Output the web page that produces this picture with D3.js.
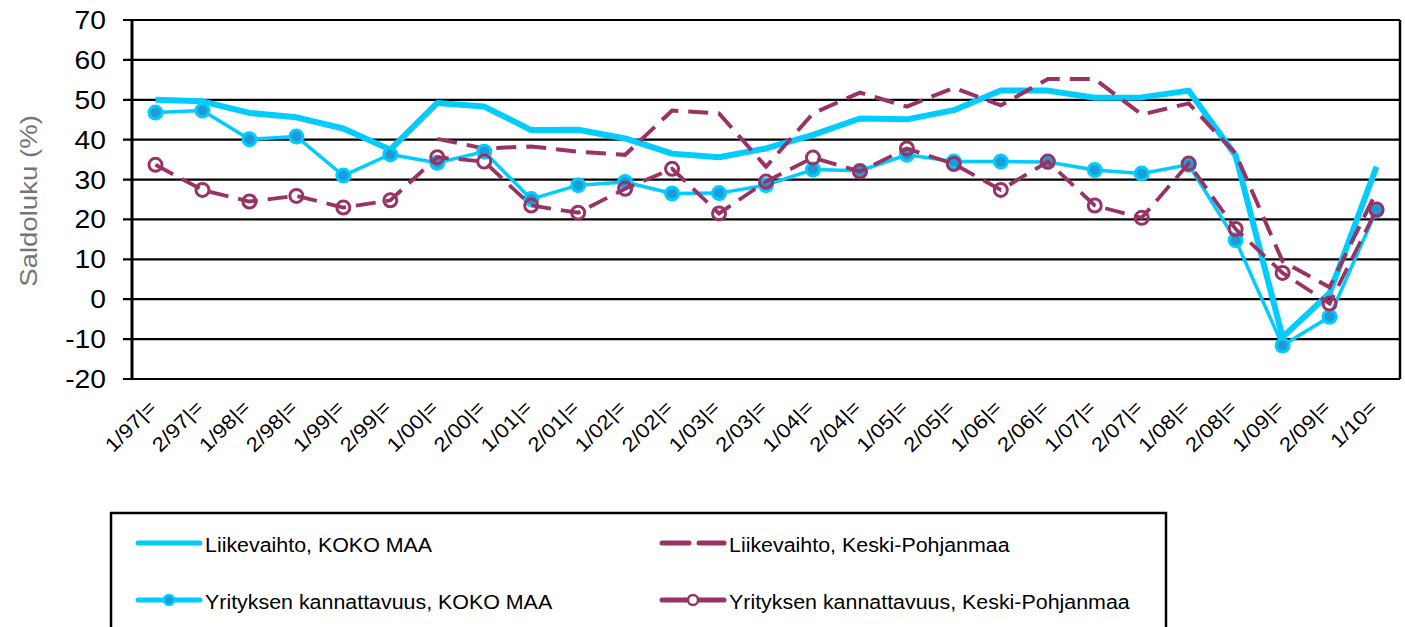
<!DOCTYPE html>
<html>
<head>
<meta charset="utf-8">
<script src="https://cdn.jsdelivr.net/npm/d3@7"></script>
<style>
  body { margin: 0; background: #fff; }
  text { font-family: "Liberation Sans", Arial, sans-serif; }
</style>
</head>
<body>
<div id="container"></div>
<script>
let w = 1405;
let h = 627;

// DATA
let categories = ["1/97|=", "2/97|=", "1/98|=", "2/98|=", "1/99|=", "2/99|=", "1/00|=", "2/00|=",
  "1/01|=", "2/01|=", "1/02|=", "2/02|=", "1/03|=", "2/03|=", "1/04|=", "2/04|=", "1/05|=",
  "2/05|=", "1/06|=", "2/06|=", "1/07|=", "2/07|=", "1/08|=", "2/08|=", "1/09|=", "2/09|=", "1/10="];

let liikevaihtoKoko = [50, 49.6, 46.7, 45.6, 42.8, 37.5, 49.2, 48.3, 42.4, 42.5, 40.3, 36.5, 35.6,
  37.8, 41.2, 45.3, 45.1, 47.4, 52.3, 52.3, 50.5, 50.6, 52.3, 36, -9.5, 1.5, 33.2];

let liikevaihtoKP = [null, null, null, null, null, null, 40.2, 37.8, 38.3, 37, 36.2, 47.3, 46.6,
  33.2, 46.6, 51.8, 48.3, 53, 48.6, 55.2, 55.2, 46.3, 49.1, 36.5, 9.5, 3, 27];

let kannattavuusKoko = [46.8, 47.3, 40.1, 40.8, 31, 36.3, 34.2, 37, 25.1, 28.6, 29.4, 26.5, 26.6,
  28.6, 32.5, 32.2, 36.2, 34.5, 34.5, 34.4, 32.4, 31.5, 33.7, 14.8, -11.6, -4.4, 22.3];

let kannattavuusKP = [33.7, 27.4, 24.5, 25.9, 23, 24.8, 35.6, 34.5, 23.5, 21.7, 27.7, 32.7, 21.5,
  29.5, 35.5, 32, 37.8, 33.9, 27.4, 34.5, 23.5, 20.4, 34, 17.6, 6.6, -1.1, 22.5];

let yTicks = [-20, -10, 0, 10, 20, 30, 40, 50, 60, 70];

let seriesNames = ["Liikevaihto, KOKO MAA", "Liikevaihto, Keski-Pohjanmaa",
  "Yrityksen kannattavuus, KOKO MAA", "Yrityksen kannattavuus, Keski-Pohjanmaa"];

let cyan = "#00ccff";
let purple = "#993366";
let markerBlue = "#1e9bd7";

let plotLeft = 132, plotRight = 1400, plotTop = 20, plotBottom = 379;

let viz = d3.select("#container").append("svg")
  .attr("width", w)
  .attr("height", h)
  .style("background-color", "white");

let yScale = d3.scaleLinear().domain([-20, 70]).range([plotBottom, plotTop]);
let xScale = d3.scaleBand().domain(categories).range([plotLeft, plotRight]);
function cx(c) { return xScale(c) + xScale.bandwidth() / 2; }

// text helper: stretches text along its own direction
function label(g, x, y, str, opts) {
  let t = g.append("text")
    .attr("transform", "translate(" + x + "," + y + ") rotate(" + (opts.rot || 0) + ") scale(" + (opts.sx || 1) + ",1)")
    .attr("font-size", opts.size)
    .attr("text-anchor", opts.anchor || "start")
    .attr("fill", opts.fill || "#000")
    .text(str);
  return t;
}

// gridlines
viz.selectAll(".grid").data(yTicks).enter()
  .append("line")
  .attr("class", "grid")
  .attr("x1", plotLeft - 9)
  .attr("x2", plotRight)
  .attr("y1", d => yScale(d))
  .attr("y2", d => yScale(d))
  .attr("stroke", "#000")
  .attr("stroke-width", 2.2);

// right border + left axis
viz.append("line").attr("x1", plotRight).attr("x2", plotRight).attr("y1", plotTop).attr("y2", plotBottom)
  .attr("stroke", "#000").attr("stroke-width", 2.5);
viz.append("line").attr("x1", plotLeft).attr("x2", plotLeft).attr("y1", plotTop - 1).attr("y2", plotBottom + 1)
  .attr("stroke", "#000").attr("stroke-width", 3);

// y labels
yTicks.forEach(function (d) {
  label(viz, 106, yScale(d) + 9, d, { size: 25, sx: 1.13, anchor: "end" });
});

// y title
label(viz, 37, 201, "Saldoluku (%)", { size: 23, sx: 1.2, rot: -90, anchor: "middle", fill: "#757575" });

// x labels
categories.forEach(function (c) {
  label(viz, cx(c) + 2, 409, c, { size: 20, sx: 1.12, rot: -45, anchor: "end" });
});

// lines
let lineMaker = d3.line()
  .defined(d => d.v != null)
  .x(d => cx(d.c))
  .y(d => yScale(d.v));

function toPts(arr) {
  return arr.map(function (v, i) { return { c: categories[i], v: v }; });
}

viz.append("path").datum(toPts(liikevaihtoKoko))
  .attr("d", lineMaker).attr("fill", "none")
  .attr("stroke", cyan).attr("stroke-width", 6).attr("stroke-linejoin", "round");

viz.append("path").datum(toPts(liikevaihtoKP))
  .attr("d", lineMaker).attr("fill", "none")
  .attr("stroke", purple).attr("stroke-width", 4).attr("stroke-dasharray", "20,10");

viz.append("path").datum(toPts(kannattavuusKoko))
  .attr("d", lineMaker).attr("fill", "none")
  .attr("stroke", cyan).attr("stroke-width", 3.5).attr("stroke-linejoin", "round");

viz.selectAll(".m3").data(toPts(kannattavuusKoko)).enter()
  .append("circle").attr("class", "m3")
  .attr("cx", d => cx(d.c)).attr("cy", d => yScale(d.v)).attr("r", 6.5)
  .attr("fill", markerBlue).attr("stroke", cyan).attr("stroke-width", 3);

viz.append("path").datum(toPts(kannattavuusKP))
  .attr("d", lineMaker).attr("fill", "none")
  .attr("stroke", purple).attr("stroke-width", 3.8).attr("stroke-dasharray", "20,10");

viz.selectAll(".m4").data(toPts(kannattavuusKP)).enter()
  .append("circle").attr("class", "m4")
  .attr("cx", d => cx(d.c)).attr("cy", d => yScale(d.v)).attr("r", 6.5)
  .attr("fill", "none").attr("stroke", purple).attr("stroke-width", 3);

// LEGEND
let legend = viz.append("g");
legend.append("rect")
  .attr("x", 111).attr("y", 513).attr("width", 1055).attr("height", 140)
  .attr("fill", "white").attr("stroke", "#000").attr("stroke-width", 2.5);

let legendPos = [
  { x: 138, y: 543 }, { x: 662, y: 543 },
  { x: 138, y: 600 }, { x: 662, y: 600 }
];
let legendStyle = [
  { color: cyan, width: 5, dash: null, marker: null },
  { color: purple, width: 5, dash: "27,10", marker: null },
  { color: cyan, width: 5, dash: null, marker: "filled" },
  { color: purple, width: 5, dash: null, marker: "open" }
];

seriesNames.forEach(function (name, i) {
  let p = legendPos[i], s = legendStyle[i];
  legend.append("line")
    .attr("x1", p.x).attr("x2", p.x + 62).attr("y1", p.y).attr("y2", p.y)
    .attr("stroke", s.color).attr("stroke-width", s.width)
    .attr("stroke-linecap", "round")
    .attr("stroke-dasharray", s.dash);
  if (s.marker == "filled") {
    legend.append("circle").attr("cx", p.x + 31).attr("cy", p.y).attr("r", 5)
      .attr("fill", markerBlue).attr("stroke", cyan).attr("stroke-width", 2.5);
  } else if (s.marker == "open") {
    legend.append("circle").attr("cx", p.x + 31).attr("cy", p.y).attr("r", 5)
      .attr("fill", "white").attr("stroke", s.color).attr("stroke-width", 2.5);
  }
  label(legend, p.x + 67, p.y + 9, name, { size: 20, sx: 1.07 });
});
</script>
</body>
</html>
